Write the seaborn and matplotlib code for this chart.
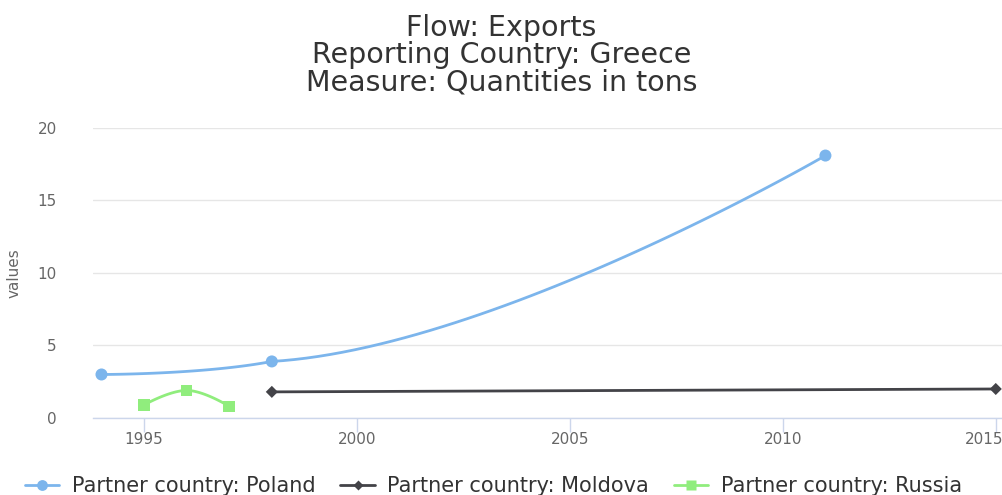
import numpy as np
import pandas as pd
import matplotlib
matplotlib.use("Agg")
import matplotlib.pyplot as plt
import matplotlib.transforms as mtransforms
from matplotlib.lines import Line2D
import seaborn as sns

# Veriler
poland_years = [1994, 1998, 2011]
poland_values = [3.0, 3.9, 18.1]
moldova_years = [1998, 2015]
moldova_values = [1.8, 2.0]
russia_years = [1995, 1996, 1997]
russia_values = [0.9, 1.9, 0.8]

series_names = ["Partner country: Poland", "Partner country: Moldova", "Partner country: Russia"]
colors = ["#7cb5ec", "#434348", "#90ed7d"]
markers = ["o", "D", "s"]
marker_sizes = [75, 38, 70]


def spline_curve(xs, ys, steps=60):
    """Highcharts tarzı spline: her nokta için kontrol noktaları hesaplanır."""
    xs = list(map(float, xs))
    ys = list(map(float, ys))
    n = len(xs)
    if n < 3:
        return np.array(xs), np.array(ys)
    smoothing = 1.5
    denom = smoothing + 1
    left_c = [(xs[i], ys[i]) for i in range(n)]
    right_c = [(xs[i], ys[i]) for i in range(n)]
    for i in range(1, n - 1):
        lx, ly = xs[i - 1], ys[i - 1]
        px, py = xs[i], ys[i]
        nx, ny = xs[i + 1], ys[i + 1]
        lcx = (smoothing * px + lx) / denom
        lcy = (smoothing * py + ly) / denom
        rcx = (smoothing * px + nx) / denom
        rcy = (smoothing * py + ny) / denom
        if rcx != lcx:
            corr = ((rcy - lcy) * (rcx - px)) / (rcx - lcx) + py - rcy
            lcy += corr
            rcy += corr
        if lcy > ly and lcy > py:
            lcy = max(ly, py)
            rcy = 2 * py - lcy
        elif lcy < ly and lcy < py:
            lcy = min(ly, py)
            rcy = 2 * py - lcy
        if rcy > ny and rcy > py:
            rcy = max(ny, py)
            lcy = 2 * py - rcy
        elif rcy < ny and rcy < py:
            rcy = min(ny, py)
            lcy = 2 * py - rcy
        left_c[i] = (lcx, lcy)
        right_c[i] = (rcx, rcy)
    out_x, out_y = [], []
    t = np.linspace(0, 1, steps)
    for i in range(n - 1):
        p0 = np.array([xs[i], ys[i]])
        p1 = np.array(right_c[i])
        p2 = np.array(left_c[i + 1])
        p3 = np.array([xs[i + 1], ys[i + 1]])
        pts = ((1 - t) ** 3)[:, None] * p0 + (3 * (1 - t) ** 2 * t)[:, None] * p1 \
            + (3 * (1 - t) * t ** 2)[:, None] * p2 + (t ** 3)[:, None] * p3
        out_x.extend(pts[:, 0])
        out_y.extend(pts[:, 1])
    return np.array(out_x), np.array(out_y)


sns.set_theme(style="white")
plt.rcParams["font.family"] = ["DejaVu Sans"]

fig = plt.figure(figsize=(10.03, 4.95), dpi=100)
ax = fig.add_axes([0.0927, 0.1556, 0.9073, 0.5858])

all_series = [
    (poland_years, poland_values),
    (moldova_years, moldova_values),
    (russia_years, russia_values),
]

for (yrs, vals), name, col, mk, ms in zip(all_series, series_names, colors, markers, marker_sizes):
    cx, cy = spline_curve(yrs, vals)
    ax.plot(cx, cy, color=col, lw=2, zorder=2)
    df = pd.DataFrame({"year": yrs, "value": vals})
    sns.scatterplot(data=df, x="year", y="value", marker=mk, s=ms, color=col,
                    edgecolor="none", ax=ax, zorder=3, legend=False)

ax.set_xlim(1993.8, 2015.17)
ax.set_ylim(0, 20)
ax.set_yticks([0, 5, 10, 15, 20])
ax.set_xticks([1995, 2000, 2005, 2010, 2015])
ax.yaxis.grid(True, color="#e6e6e6", lw=1)
ax.xaxis.grid(False)
for s in ["top", "right", "left"]:
    ax.spines[s].set_visible(False)
ax.spines["bottom"].set_color("#ccd6eb")
ax.spines["bottom"].set_linewidth(1)
ax.tick_params(axis="x", bottom=True, length=10, width=1, color="#ccd6eb",
               labelsize=11, labelcolor="#666666", pad=0)
ax.tick_params(axis="y", left=False, labelsize=11, labelcolor="#666666", pad=20)
ax.set_xlabel("")
ax.set_ylabel("values", color="#666666", fontsize=11, labelpad=4)
ax.yaxis.set_label_coords(-0.078, 0.5)

# son etiket kenarda kesilmesin diye biraz sola kaydır
fig.canvas.draw()
last_lbl = ax.get_xticklabels()[-1]
last_lbl.set_transform(last_lbl.get_transform() +
                       mtransforms.ScaledTranslation(-12 / 100, 0, fig.dpi_scale_trans))

fig.suptitle("Flow: Exports\nReporting Country: Greece\nMeasure: Quantities in tons",
             y=0.972, fontsize=20.5, color="#333333", linespacing=0.98)

handles = [Line2D([0], [0], color=c, lw=2, marker=m, markersize=np.sqrt(s) * 0.9,
                  markeredgecolor="none")
           for c, m, s in zip(colors, markers, marker_sizes)]
fig.legend(handles, series_names, loc="center", bbox_to_anchor=(0.492, 0.018),
           ncol=3, frameon=False, handlelength=1.65, handletextpad=0.6, columnspacing=1.2,
           prop={"size": 15}, labelcolor="#333333", borderaxespad=0, borderpad=0)

fig.savefig("out.png", dpi=100)
